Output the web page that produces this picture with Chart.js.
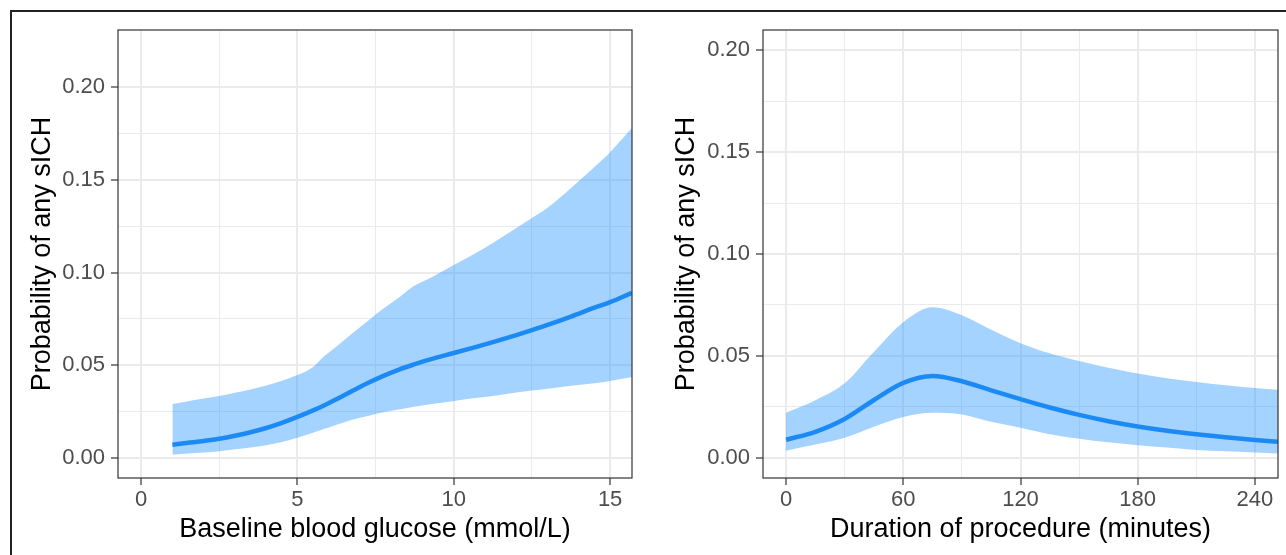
<!DOCTYPE html>
<html>
<head>
<meta charset="utf-8">
<script src="https://cdn.jsdelivr.net/npm/chart.js@4.4.1/dist/chart.umd.min.js"></script>
<style>
  html, body { margin: 0; padding: 0; background: #fff; overflow: hidden; }
  body { width: 1286px; height: 555px; position: relative; }
  .frame { position: absolute; left: 10px; top: 10px; width: 1400px; height: 700px; border: 2px solid #222; }
  .panel { position: absolute; top: 0; width: 643px; height: 555px; }
</style>
</head>
<body>
<div class="frame"></div>
<div class="panel" style="left:0"><canvas id="glucoseChart"></canvas></div>
<div class="panel" style="left:643px"><canvas id="durationChart"></canvas></div>
<script>
// left panel: baseline blood glucose
const glucoseX     = [1, 1.5, 2, 2.5, 3, 3.5, 4, 4.5, 5, 5.5, 5.8, 6.25, 6.75, 7.25, 7.75, 8.25, 8.7, 9.25, 10, 10.75, 11.25, 12, 12.5, 13, 13.75, 14.5, 15, 15.7]
const glucoseFit   = [0.007, 0.008, 0.009, 0.0102, 0.0118, 0.0137, 0.016, 0.0188, 0.022, 0.0255, 0.0278, 0.0316, 0.036, 0.0403, 0.0442, 0.0476, 0.0502, 0.0531, 0.0565, 0.06, 0.0624, 0.0662, 0.0689, 0.0717, 0.0762, 0.081, 0.084, 0.089]
const glucoseUpper = [0.029, 0.0305, 0.032, 0.0333, 0.035, 0.0368, 0.039, 0.0415, 0.0446, 0.049, 0.054, 0.060, 0.067, 0.0738, 0.0805, 0.0865, 0.0925, 0.097, 0.104, 0.111, 0.116, 0.124, 0.1295, 0.135, 0.1457, 0.157, 0.165, 0.178]
const glucoseLower = [0.0016, 0.0022, 0.0028, 0.0035, 0.0045, 0.0055, 0.0067, 0.0085, 0.0108, 0.0135, 0.0152, 0.0178, 0.0205, 0.0225, 0.0245, 0.026, 0.0274, 0.0288, 0.0306, 0.0323, 0.0333, 0.0352, 0.0362, 0.0372, 0.0388, 0.0402, 0.0414, 0.0435]

// right panel: duration of procedure
const durationX     = [0, 15, 30, 45, 60, 75, 90, 105, 120, 135, 150, 165, 180, 195, 210, 225, 240, 252]
const durationFit   = [0.0088, 0.0127, 0.019, 0.0283, 0.0367, 0.0401, 0.0375, 0.033, 0.0287, 0.0246, 0.021, 0.0179, 0.0153, 0.0132, 0.0115, 0.01, 0.0087, 0.0078]
const durationUpper = [0.022, 0.0282, 0.0365, 0.052, 0.0665, 0.0738, 0.0699, 0.0628, 0.0562, 0.0512, 0.0474, 0.0441, 0.0413, 0.039, 0.0371, 0.0355, 0.0342, 0.0333]
const durationLower = [0.0034, 0.0064, 0.0098, 0.0152, 0.020, 0.022, 0.0212, 0.0176, 0.0147, 0.0115, 0.0093, 0.0075, 0.0061, 0.005, 0.0038, 0.0031, 0.0025, 0.002]

// ticks
const glucoseTicks      = [0, 5, 10, 15]
const glucoseTickLabels = ['0', '5', '10', '15']
const glucoseMinor      = [2.5, 7.5, 12.5]
const durationTicks      = [0, 60, 120, 180, 240]
const durationTickLabels = ['0', '60', '120', '180', '240']
const durationMinor      = [30, 90, 150, 210]
const probTicks      = [0, 0.05, 0.10, 0.15, 0.20]
const probTickLabels = ['0.00', '0.05', '0.10', '0.15', '0.20']
const probMinor      = [0.025, 0.075, 0.125, 0.175]

const yTitle = 'Probability of any sICH'

const FONT = "'Liberation Sans', Arial, sans-serif"
const GRID = '#ebebeb'

const panelBorder = {
  id: 'panelBorder',
  afterDatasetsDraw(chart) {
    const a = chart.chartArea
    const ctx = chart.ctx
    ctx.save()
    ctx.strokeStyle = '#333'
    ctx.lineWidth = 1.2
    ctx.strokeRect(a.left, a.top, a.right - a.left, a.bottom - a.top)
    ctx.restore()
  }
}

function toPoints(xs, ys) {
  return xs.map((x, i) => ({ x: x, y: ys[i] }))
}

function axis(opts) {
  const all = opts.major.concat(opts.minor).sort((a, b) => a - b)
  const isMajor = v => opts.major.some(m => Math.abs(m - v) < 1e-9)
  return {
    type: 'linear',
    min: opts.min,
    max: opts.max,
    afterBuildTicks(scale) {
      scale.ticks = all.map(v => ({ value: v }))
    },
    afterFit(scale) {
      if (opts.width) scale.width = opts.width
      if (opts.height) scale.height = opts.height
    },
    border: { display: false },
    grid: {
      color: GRID,
      lineWidth: c => (c.tick && isMajor(c.tick.value)) ? 2 : 1,
      drawTicks: true,
      tickLength: 7,
      tickWidth: 1.2,
      tickColor: c => (c.tick && isMajor(c.tick.value)) ? '#333' : 'rgba(0,0,0,0)'
    },
    ticks: {
      autoSkip: false,
      maxRotation: 0,
      padding: opts.tickPad,
      color: '#4d4d4d',
      font: { family: FONT, size: 22 },
      callback(value) {
        const i = opts.major.findIndex(m => Math.abs(m - value) < 1e-9)
        return i >= 0 ? opts.labels[i] : ''
      }
    },
    title: {
      display: true,
      text: opts.title,
      color: '#000',
      font: { family: FONT, size: 27 },
      padding: opts.titlePad
    }
  }
}

function makeChart(id, xs, fit, upper, lower, xOpts, yOpts, padding) {
  return new Chart(document.getElementById(id), {
    type: 'line',
    data: {
      datasets: [
        {
          label: 'upper',
          data: toPoints(xs, upper),
          borderWidth: 0,
          pointRadius: 0,
          fill: false,
          cubicInterpolationMode: 'monotone'
        },
        {
          label: 'lower',
          data: toPoints(xs, lower),
          borderWidth: 0,
          pointRadius: 0,
          backgroundColor: 'rgba(30, 144, 255, 0.4)',
          fill: '-1',
          cubicInterpolationMode: 'monotone'
        },
        {
          label: 'fit',
          data: toPoints(xs, fit),
          borderColor: '#1c86ee',
          borderWidth: 4.5,
          pointRadius: 0,
          fill: false,
          cubicInterpolationMode: 'monotone'
        }
      ]
    },
    options: {
      responsive: true,
      maintainAspectRatio: false,
      animation: false,
      layout: { padding: padding },
      plugins: {
        legend: { display: false },
        tooltip: { enabled: false }
      },
      scales: {
        x: axis(xOpts),
        y: axis(yOpts)
      }
    },
    plugins: [panelBorder]
  })
}

makeChart('glucoseChart', glucoseX, glucoseFit, glucoseUpper, glucoseLower,
  { min: -0.74, max: 15.7, major: glucoseTicks, minor: glucoseMinor, labels: glucoseTickLabels,
    title: 'Baseline blood glucose (mmol/L)', height: 77, tickPad: 2, titlePad: { top: 0, bottom: 9 } },
  { min: -0.011, max: 0.231, major: probTicks, minor: probMinor, labels: probTickLabels,
    title: yTitle, width: 118, tickPad: 6, titlePad: { top: 26, bottom: 0 } },
  { left: 0, top: 30, right: 11, bottom: 0 })

makeChart('durationChart', durationX, durationFit, durationUpper, durationLower,
  { min: -11.8, max: 251.8, major: durationTicks, minor: durationMinor, labels: durationTickLabels,
    title: 'Duration of procedure (minutes)', height: 77, tickPad: 2, titlePad: { top: 0, bottom: 9 } },
  { min: -0.01, max: 0.21, major: probTicks, minor: probMinor, labels: probTickLabels,
    title: yTitle, width: 120, tickPad: 6, titlePad: { top: 27, bottom: 0 } },
  { left: 0, top: 30, right: 8, bottom: 0 })
</script>
</body>
</html>
